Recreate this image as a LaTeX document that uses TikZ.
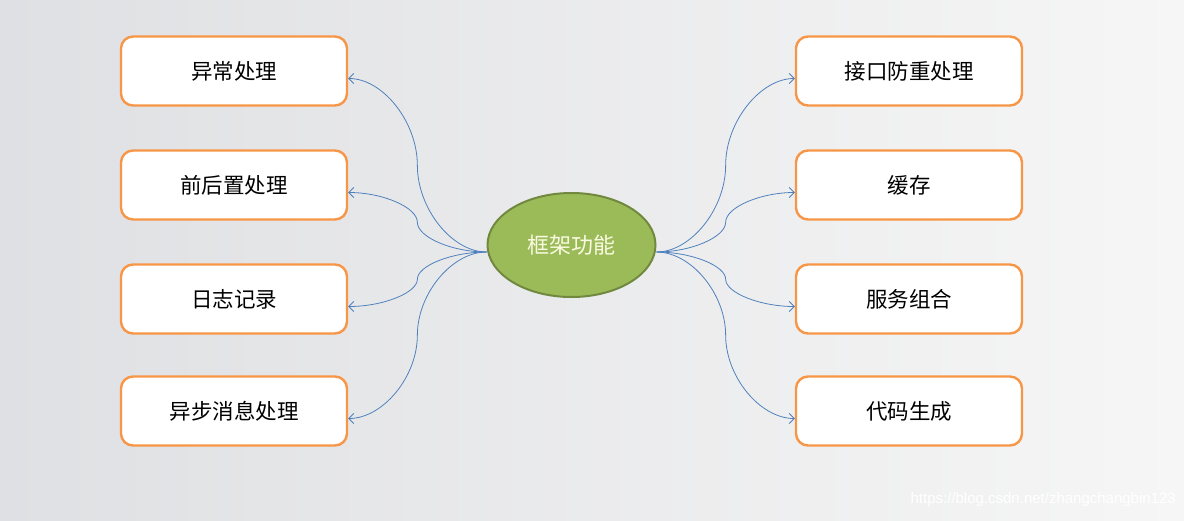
\documentclass[tikz,border=0pt]{standalone}
\usepackage{fontspec}
\newfontfamily\cjk{Noto Sans CJK SC}
\newfontfamily\wmfont{Liberation Sans}
\usetikzlibrary{arrows.meta,shapes.geometric,calc}
\definecolor{bgL}{RGB}{223,224,227}
\definecolor{bgR}{RGB}{246,246,246}
\definecolor{boxorange}{RGB}{247,150,70}
\definecolor{ellfill}{RGB}{155,187,89}
\definecolor{elldraw}{RGB}{113,137,63}
\definecolor{connblue}{RGB}{79,129,189}
\definecolor{elltext}{RGB}{250,250,225}
\tikzset{
  fbox/.style={draw=boxorange, line width=2.4pt, fill=white, rounded corners=12pt,
    minimum width=226pt, minimum height=69pt, inner sep=0pt,
    font=\cjk\fontsize{21.5}{25}\selectfont, text=black},
  center/.style={ellipse, draw=elldraw, line width=2pt, fill=ellfill,
    minimum width=168pt, minimum height=104pt, inner sep=0pt,
    font=\cjk\fontsize{22}{26}\selectfont, text=elltext},
  conn/.style={draw=connblue, line width=0.8pt, -{Straight Barb[length=5pt,width=10pt]}},
}
\newcommand{\curvecon}[2]{%
  \draw[conn] let \p1=(#1), \p2=(#2) in (\p1)
    .. controls ({0.75*\x1+0.25*\x2},\y1) and ({0.5*\x1+0.5*\x2},{0.75*\y1+0.25*\y2})
    .. ({0.5*\x1+0.5*\x2},{0.5*\y1+0.5*\y2})
    .. controls ({0.5*\x1+0.5*\x2},{0.25*\y1+0.75*\y2}) and ({0.25*\x1+0.75*\x2},\y2)
    .. (\p2);}
\begin{document}
\begin{tikzpicture}[x=1pt,y=-1pt]
\useasboundingbox (0,0) rectangle (1184,520);
\shade[left color=bgL, right color=bgR] (0,0) rectangle (1184,520);

\node[center] (c) at (571.5,245) {框架功能};

\node[fbox] (l1) at (234,71) {异常处理};
\node[fbox] (l2) at (234,185) {前后置处理};
\node[fbox] (l3) at (234,299) {日志记录};
\node[fbox] (l4) at (234,411) {异步消息处理};

\node[fbox] (r1) at (909,71) {接口防重处理};
\node[fbox] (r2) at (909,185) {缓存};
\node[fbox] (r3) at (909,299) {服务组合};
\node[fbox] (r4) at (909,411) {代码生成};

\coordinate (cl) at ([yshift=-7pt]c.west);
\coordinate (cr) at ([yshift=-7pt]c.east);

\coordinate (l1a) at ([yshift=-7.5pt]l1.east);
\coordinate (l2a) at ([yshift=-7.5pt]l2.east);
\coordinate (l3a) at ([yshift=-7.5pt]l3.east);
\coordinate (l4a) at ([yshift=-7.5pt]l4.east);
\coordinate (r1a) at ([yshift=-7.5pt]r1.west);
\coordinate (r2a) at ([yshift=-7.5pt]r2.west);
\coordinate (r3a) at ([yshift=-7.5pt]r3.west);
\coordinate (r4a) at ([yshift=-7.5pt]r4.west);

\curvecon{cl}{l1a}
\curvecon{cl}{l2a}
\curvecon{cl}{l3a}
\curvecon{cl}{l4a}
\curvecon{cr}{r1a}
\curvecon{cr}{r2a}
\curvecon{cr}{r3a}
\curvecon{cr}{r4a}

\node[anchor=east, font=\wmfont\fontsize{15}{18}\selectfont, text=white, inner sep=0pt] (wm) at (1176,500) {https://blog.csdn.net/zhangchangbin123};
\end{tikzpicture}
\end{document}
